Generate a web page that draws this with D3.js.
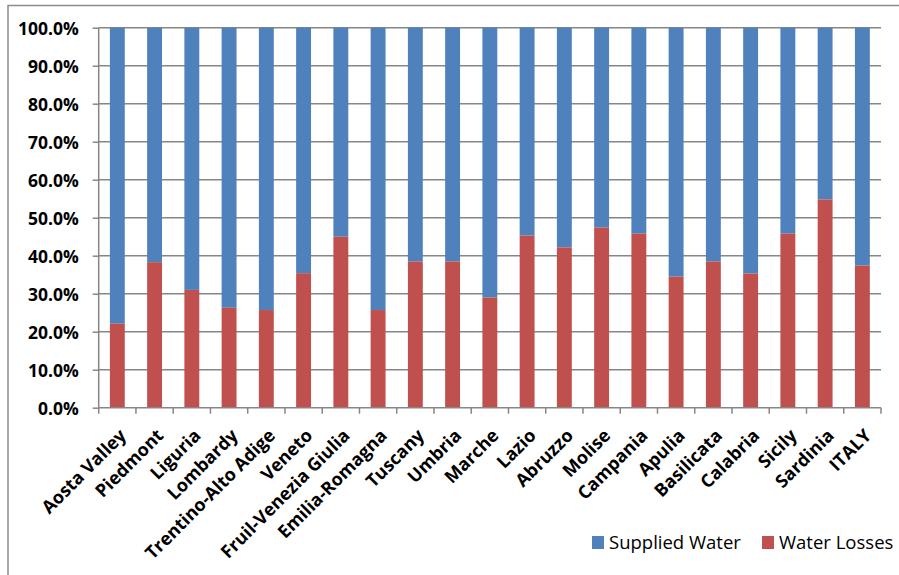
<!DOCTYPE html>
<html>
<head>
<meta charset="utf-8">
<script src="https://cdn.jsdelivr.net/npm/d3@7"></script>
<style>
  html, body { margin: 0; padding: 0; background: #fff; }
  svg { display: block; }
  text { font-family: "Open Sans", "Liberation Sans", sans-serif; }
</style>
</head>
<body>
<svg id="chart" width="899" height="575"></svg>
<script>
// Share of water lost vs. supplied, by Italian region (percent of input volume)
const regions = ["Aosta Valley", "Piedmont", "Liguria", "Lombardy", "Trentino-Alto Adige",
  "Veneto", "Fruil-Venezia Giulia", "Emilia-Romagna", "Tuscany", "Umbria", "Marche",
  "Lazio", "Abruzzo", "Molise", "Campania", "Apulia", "Basilicata", "Calabria",
  "Sicily", "Sardinia", "ITALY"];
const waterLosses = [22.1, 38.3, 31.0, 26.3, 25.7, 35.4, 45.0, 25.7, 38.5, 38.5, 29.0,
  45.3, 42.2, 47.4, 45.8, 34.5, 38.5, 35.3, 45.8, 54.8, 37.4];
const suppliedWater = waterLosses.map(v => 100 - v);
const yTicks = [0, 10, 20, 30, 40, 50, 60, 70, 80, 90, 100];
const seriesNames = ["Supplied Water", "Water Losses"];
const seriesColors = ["#4F81BD", "#C0504D"];

const svg = d3.select("#chart");
const W = 899, H = 575;
const plot = { left: 98.7, right: 881, top: 27.7, bottom: 407.7 };
const gridColor = "#868686";

// Outer chart frame
svg.append("rect")
  .attr("x", 8).attr("y", 5.5)
  .attr("width", W + 10).attr("height", H + 10)
  .attr("fill", "#fff").attr("stroke", "#8c8c8c").attr("stroke-width", 1.5);

const x = d3.scaleBand().domain(regions).range([plot.left, plot.right]).paddingInner(0.6).paddingOuter(0.3);
const y = d3.scaleLinear().domain([0, 100]).range([plot.bottom, plot.top]);

// Horizontal gridlines
svg.append("g")
  .selectAll("line")
  .data(yTicks.filter(t => t > 0))
  .join("line")
  .attr("x1", plot.left).attr("x2", plot.right)
  .attr("y1", d => y(d)).attr("y2", d => y(d))
  .attr("stroke", gridColor).attr("stroke-width", 1.5);

// Stacked bars: losses at the bottom, supplied on top
const stackData = regions.map((r, i) => ({ region: r, losses: waterLosses[i], supplied: suppliedWater[i] }));
const stack = d3.stack().keys(["supplied", "losses"]).order(d3.stackOrderReverse);
const layers = stack(stackData);

svg.append("g")
  .selectAll("g")
  .data(layers)
  .join("g")
  .attr("fill", (d, i) => seriesColors[i])
  .selectAll("rect")
  .data(d => d)
  .join("rect")
  .attr("x", d => x(d.data.region))
  .attr("width", x.bandwidth())
  .attr("y", d => y(d[1]))
  .attr("height", d => y(d[0]) - y(d[1]));

// Y axis
const yAxis = d3.axisLeft(y).tickValues(yTicks).tickSize(6).tickFormat(d => d.toFixed(1) + "%");
const gy = svg.append("g").attr("transform", `translate(${plot.left},0)`).call(yAxis);
gy.select(".domain").attr("stroke", gridColor).attr("stroke-width", 1.5).attr("d", `M0,${plot.top}V${plot.bottom}`);
gy.selectAll(".tick line").attr("stroke", gridColor).attr("stroke-width", 1.5);
gy.selectAll(".tick text")
  .attr("x", -20)
  .attr("dy", "0.36em")
  .attr("fill", "#000")
  .style("font-size", "17.5px")
  .style("font-weight", "bold")
  .style("font-family", "'Open Sans', sans-serif");

// X axis with ticks at category boundaries
const boundaries = d3.range(regions.length + 1).map(i => plot.left + i * (plot.right - plot.left) / regions.length);
svg.append("line")
  .attr("x1", plot.left).attr("x2", plot.right)
  .attr("y1", plot.bottom).attr("y2", plot.bottom)
  .attr("stroke", gridColor).attr("stroke-width", 1.5);
svg.append("g")
  .selectAll("line")
  .data(boundaries)
  .join("line")
  .attr("x1", d => d).attr("x2", d => d)
  .attr("y1", plot.bottom).attr("y2", plot.bottom + 6)
  .attr("stroke", gridColor).attr("stroke-width", 1.5);

// Rotated category labels
svg.append("g")
  .selectAll("text")
  .data(regions)
  .join("text")
  .attr("transform", d => `translate(${x(d) + x.bandwidth() / 2 + 10},${plot.bottom + 29}) rotate(-45)`)
  .attr("text-anchor", "end")
  .attr("fill", "#000")
  .style("font-size", "18px")
  .style("font-weight", "bold")
  .text(d => d);

// Legend
const legendItems = [
  { name: seriesNames[0], color: seriesColors[0], x: 592 },
  { name: seriesNames[1], color: seriesColors[1], x: 762 }
];
const lg = svg.append("g");
legendItems.forEach(it => {
  lg.append("rect").attr("x", it.x).attr("y", 536).attr("width", 12).attr("height", 13).attr("fill", it.color);
  lg.append("text").attr("x", it.x + 17).attr("y", 549)
    .attr("fill", "#000").style("font-size", "18.5px").text(it.name);
});
</script>
</body>
</html>
